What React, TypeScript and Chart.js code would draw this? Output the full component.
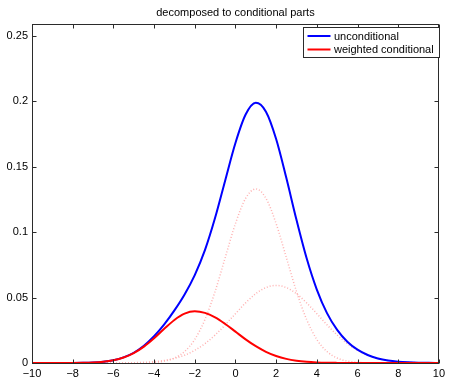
import React, { useEffect, useRef } from 'react';
import { Chart, registerables } from 'chart.js';

Chart.register(...registerables);

const TITLE = 'decomposed to conditional parts';

const X_VALUES = [
  -10, -9.5, -9, -8.5, -8, -7.5, -7, -6.5, -6, -5.5, -5, -4.5, -4, -3.5, -3, -2.5, -2, -1.5, -1, -0.5,
  0, 0.5, 1, 1.5, 2, 2.5, 3, 3.5, 4, 4.5, 5, 5.5, 6, 6.5, 7, 7.5, 8, 8.5, 9, 9.5, 10,
];

const UNCONDITIONAL = [
  0, 0, 0.00001, 0.00002, 0.00005, 0.00015, 0.00041, 0.00098, 0.00213, 0.00427, 0.00783, 0.01318,
  0.02041, 0.0295, 0.0402, 0.0524, 0.0672, 0.0862, 0.1109, 0.1397, 0.1681, 0.1898, 0.1988, 0.192,
  0.1712, 0.1415, 0.1094, 0.08, 0.0561, 0.0381, 0.0253, 0.0163, 0.0102, 0.0061, 0.0035, 0.0019,
  0.001, 0.0005, 0.0002, 0.0001, 0.00004,
];

const WEIGHTED_CONDITIONAL = [
  0, 0, 0, 0.00002, 0.00005, 0.00015, 0.0004, 0.00096, 0.00209, 0.00416, 0.00756, 0.01253, 0.0189,
  0.0261, 0.0329, 0.0377, 0.0395, 0.03828, 0.03486, 0.02981, 0.02396, 0.01808, 0.01283, 0.00854,
  0.00535, 0.00314, 0.00174, 0.0009, 0.00044, 0.0002, 0.00009, 0.00003, 0.00001, 0, 0, 0, 0, 0, 0, 0, 0,
];

const COMPONENT_A = [
  0, 0, 0, 0, 0, 0, 0, 0, 0, 0.00001, 0.00004, 0.00016, 0.00051, 0.00148, 0.0038, 0.00874, 0.018,
  0.03317, 0.05468, 0.08067, 0.1065, 0.1258, 0.133, 0.1258, 0.1065, 0.08067, 0.05468, 0.03317, 0.018,
  0.00874, 0.0038, 0.00148, 0.00051, 0.00016, 0.00004, 0.00001, 0, 0, 0, 0, 0,
];

const COMPONENT_B = [
  0, 0, 0, 0, 0, 0, 0.00001, 0.00002, 0.00004, 0.0001, 0.00023, 0.00049, 0.001, 0.00192, 0.00349,
  0.00597, 0.00967, 0.01479, 0.02137, 0.02919, 0.03768, 0.04595, 0.05294, 0.05764, 0.0593, 0.05764,
  0.05294, 0.04595, 0.03768, 0.02919, 0.02137, 0.01479, 0.00967, 0.00597, 0.00349, 0.00192, 0.001,
  0.00049, 0.00023, 0.0001, 0.00004,
];

const X_TICKS = [-10, -8, -6, -4, -2, 0, 2, 4, 6, 8, 10];
const X_TICK_LABELS = ['\u221210', '\u22128', '\u22126', '\u22124', '\u22122', '0', '2', '4', '6', '8', '10'];
const Y_TICKS = [0, 0.05, 0.1, 0.15, 0.2, 0.25];
const Y_TICK_LABELS = ['0', '0.05', '0.1', '0.15', '0.2', '0.25'];
const Y_MAX = 0.259;

const LEGEND_LABELS = ['unconditional', 'weighted conditional'];

const FONT = '"Liberation Sans", Arial, Helvetica, sans-serif';
const AXIS_COLOR = '#2b2b2b';
const BLUE = '#0000ff';
const RED = '#ff0000';
const PINK = '#ffb0b0';

const boxPlugin = {
  id: 'matlabBox',
  afterDatasetsDraw(chart: any) {
    const { ctx, chartArea: a, scales } = chart;
    const L = Math.floor(a.left) + 0.5;
    const R = Math.floor(a.right) + 0.5;
    const T = Math.floor(a.top) + 0.5;
    const B = Math.floor(a.bottom) + 0.5;
    ctx.save();
    ctx.strokeStyle = AXIS_COLOR;
    ctx.lineWidth = 1;
    ctx.strokeRect(L, T, R - L, B - T);
    const tl = 4;
    ctx.beginPath();
    X_TICKS.forEach((v) => {
      const px = Math.round(scales.x.getPixelForValue(v)) + 0.5;
      ctx.moveTo(px, B);
      ctx.lineTo(px, B - tl);
      ctx.moveTo(px, T);
      ctx.lineTo(px, T + tl);
    });
    Y_TICKS.forEach((v) => {
      const py = Math.round(scales.y.getPixelForValue(v)) + 0.5;
      ctx.moveTo(L, py);
      ctx.lineTo(L + tl, py);
      ctx.moveTo(R, py);
      ctx.lineTo(R - tl, py);
    });
    ctx.stroke();

    // title
    ctx.fillStyle = '#000';
    ctx.font = `11px ${FONT}`;
    ctx.textAlign = 'center';
    ctx.textBaseline = 'middle';
    ctx.fillText(TITLE, (a.left + a.right) / 2, 12.5);

    // legend
    const bx = 303.5;
    const by = 27.5;
    const bw = 136;
    const bh = 30;
    ctx.fillStyle = '#fff';
    ctx.fillRect(bx, by, bw, bh);
    ctx.strokeStyle = AXIS_COLOR;
    ctx.strokeRect(bx, by, bw, bh);
    const legendSets = [chart.data.datasets[0], chart.data.datasets[1]];
    legendSets.forEach((ds: any, i: number) => {
      const y = by + 8.5 + i * 13.5;
      ctx.strokeStyle = ds.borderColor;
      ctx.lineWidth = 2;
      ctx.beginPath();
      ctx.moveTo(bx + 4, y);
      ctx.lineTo(bx + 27, y);
      ctx.stroke();
      ctx.fillStyle = '#000';
      ctx.textAlign = 'left';
      ctx.textBaseline = 'middle';
      ctx.fillText(LEGEND_LABELS[i], bx + 30.5, y + 0.5);
    });
    ctx.restore();
  },
};

export default function App() {
  const canvasRef = useRef<HTMLCanvasElement | null>(null);

  useEffect(() => {
    document.body.style.margin = '0';
    const canvas = canvasRef.current;
    if (!canvas) return;
    const pts = (ys: number[]) => X_VALUES.map((x, i) => ({ x, y: ys[i] }));
    const common = {
      pointRadius: 0,
      fill: false,
      cubicInterpolationMode: 'monotone' as const,
      clip: 3,
    };
    const chart = new Chart(canvas, {
      type: 'line',
      data: {
        datasets: [
          { ...common, label: LEGEND_LABELS[0], data: pts(UNCONDITIONAL), borderColor: BLUE, borderWidth: 2, order: 1 },
          { ...common, label: LEGEND_LABELS[1], data: pts(WEIGHTED_CONDITIONAL), borderColor: RED, borderWidth: 2, order: 0 },
          { ...common, label: 'component 1', data: pts(COMPONENT_A), borderColor: PINK, borderWidth: 1.5, borderDash: [1, 2], order: 2 },
          { ...common, label: 'component 2', data: pts(COMPONENT_B), borderColor: PINK, borderWidth: 1.5, borderDash: [1, 2], order: 3 },
        ],
      },
      options: {
        responsive: false,
        animation: false,
        devicePixelRatio: 1,
        layout: { padding: { top: 24, right: 6, left: 0, bottom: 0 } },
        plugins: {
          legend: { display: false },
          title: { display: false },
          tooltip: { enabled: false },
        },
        scales: {
          x: {
            type: 'linear',
            min: -10,
            max: 10,
            afterBuildTicks: (s: any) => {
              s.ticks = X_TICKS.map((v) => ({ value: v }));
            },
            afterFit: (s: any) => {
              s.height = 16;
            },
            grid: { display: false, drawTicks: false },
            border: { display: false },
            ticks: {
              autoSkip: false,
              maxRotation: 0,
              padding: 4,
              color: '#000',
              font: { size: 11, family: FONT },
              callback: (v: any) => X_TICK_LABELS[X_TICKS.indexOf(Number(v))],
            },
          },
          y: {
            type: 'linear',
            min: 0,
            max: Y_MAX,
            afterBuildTicks: (s: any) => {
              s.ticks = Y_TICKS.map((v) => ({ value: v }));
            },
            afterFit: (s: any) => {
              s.width = 32;
            },
            grid: { display: false, drawTicks: false },
            border: { display: false },
            ticks: {
              autoSkip: false,
              padding: 4,
              color: '#000',
              font: { size: 11, family: FONT },
              callback: (v: any) => Y_TICK_LABELS[Y_TICKS.indexOf(Number(v))],
            },
          },
        },
      },
      plugins: [boxPlugin],
    });
    return () => chart.destroy();
  }, []);

  return (
    <div style={{ width: 449, height: 379 }}>
      <canvas ref={canvasRef} width={449} height={379} style={{ display: 'block' }} />
    </div>
  );
}
